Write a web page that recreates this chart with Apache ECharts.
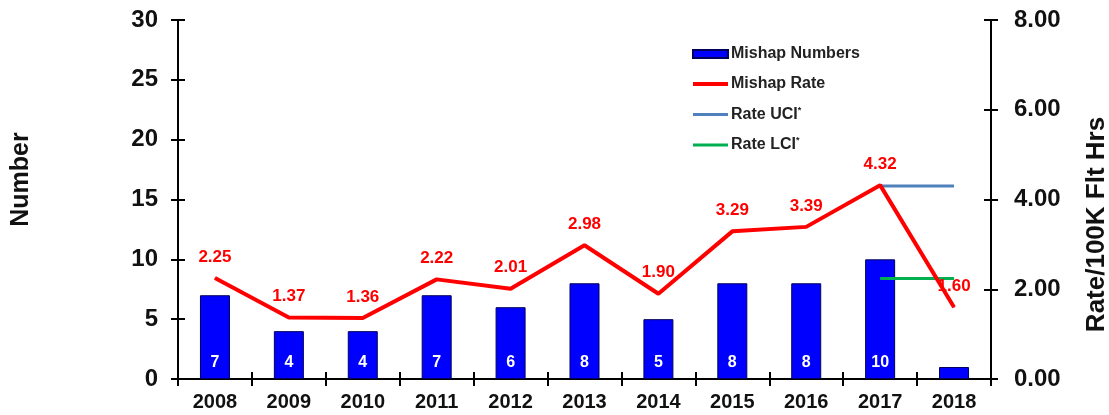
<!DOCTYPE html>
<html>
<head>
<meta charset="utf-8">
<script src="https://cdn.jsdelivr.net/npm/echarts@6/dist/echarts.min.js"></script>
<style>
  html, body { margin: 0; padding: 0; background: #fff; }
  #chart { width: 1109px; height: 415px; }
</style>
</head>
<body>
<div id="chart"></div>
<script>
// data
const years = ['2008', '2009', '2010', '2011', '2012', '2013', '2014', '2015', '2016', '2017', '2018'];
const mishapNumbers = [7, 4, 4, 7, 6, 8, 5, 8, 8, 10, 1];
const mishapRate = [2.25, 1.37, 1.36, 2.22, 2.01, 2.98, 1.90, 3.29, 3.39, 4.32, 1.60];
const rateUci = [null, null, null, null, null, null, null, null, null, 4.30, 4.30];
const rateLci = [null, null, null, null, null, null, null, null, null, 2.24, 2.24];

const FONT = 'Liberation Sans, Arial, sans-serif';

const chart = echarts.init(document.getElementById('chart'));

// ticks cross the axis lines, so each axis gets a twin that draws the inside half
const leftAxis = {min: 0, max: 30, interval: 5};
const rightAxis = {min: 0, max: 8, interval: 2};
const tickStyle = {color: '#000', width: 2};

const option = {
  animation: false,
  textStyle: {fontFamily: FONT},
  grid: {left: 178, right: 118, top: 20, bottom: 36, containLabel: false, outerBoundsMode: 'none'},
  legend: {
    orient: 'vertical',
    left: 686,
    top: 41,
    itemWidth: 35,
    itemHeight: 8,
    itemGap: 14,
    textStyle: {
      fontFamily: FONT, fontSize: 16, fontWeight: 'bold', color: '#222', padding: [0, 0, 0, -2],
      rich: {sup: {fontSize: 9, fontWeight: 'bold', color: '#222', padding: [0, 0, 8, 0]}}
    },
    formatter: name => name.replace('*', '{sup|*}'),
    data: [
      {name: 'Mishap Numbers', icon: 'rect'},
      {name: 'Mishap Rate', itemStyle: {opacity: 0}, lineStyle: {width: 4}},
      {name: 'Rate UCI*', itemStyle: {opacity: 0}, lineStyle: {width: 3}},
      {name: 'Rate LCI*', itemStyle: {opacity: 0}, lineStyle: {width: 3}}
    ]
  },
  xAxis: [
    {
      type: 'category',
      data: years,
      axisLine: {lineStyle: {color: '#000', width: 2}},
      axisTick: {show: true, length: 7, lineStyle: tickStyle},
      axisLabel: {color: '#111', fontSize: 20, fontWeight: 'bold', margin: 13, fontFamily: FONT}
    },
    {
      type: 'category',
      data: years,
      position: 'bottom',
      axisLine: {show: false},
      axisTick: {show: true, inside: true, length: 7, lineStyle: tickStyle},
      axisLabel: {show: false}
    }
  ],
  yAxis: [
    {
      type: 'value',
      ...leftAxis,
      name: 'Number',
      nameLocation: 'middle',
      nameGap: 144,
      nameTextStyle: {fontSize: 25, fontWeight: 'bold', color: '#111', fontFamily: FONT, padding: [0, 0, 0, 40]},
      splitLine: {show: false},
      axisLine: {show: true, lineStyle: {color: '#000', width: 2}},
      axisTick: {show: true, length: 7, lineStyle: tickStyle},
      axisLabel: {color: '#111', fontSize: 24, fontWeight: 'bold', margin: 20, fontFamily: FONT}
    },
    {
      type: 'value',
      ...rightAxis,
      position: 'right',
      name: 'Rate/100K Flt Hrs',
      nameLocation: 'middle',
      nameGap: 93,
      nameTextStyle: {fontSize: 26, fontWeight: 'bold', color: '#111', fontFamily: FONT, padding: [0, 50, 0, 0]},
      splitLine: {show: false},
      axisLine: {show: true, lineStyle: {color: '#000', width: 2}},
      axisTick: {show: true, length: 7, lineStyle: tickStyle},
      axisLabel: {
        color: '#111', fontSize: 24, fontWeight: 'bold', margin: 23, fontFamily: FONT,
        formatter: v => v.toFixed(2)
      }
    },
    {
      type: 'value',
      ...leftAxis,
      position: 'left',
      splitLine: {show: false},
      axisLine: {show: false},
      axisTick: {show: true, inside: true, length: 7, lineStyle: tickStyle},
      axisLabel: {show: false}
    },
    {
      type: 'value',
      ...rightAxis,
      position: 'right',
      splitLine: {show: false},
      axisLine: {show: false},
      axisTick: {show: true, inside: true, length: 7, lineStyle: tickStyle},
      axisLabel: {show: false}
    }
  ],
  series: [
    {
      name: 'Mishap Numbers',
      type: 'bar',
      yAxisIndex: 0,
      data: mishapNumbers,
      barWidth: 30,
      itemStyle: {color: '#0000FF', borderColor: '#00005a', borderWidth: 1},
      label: {
        show: true,
        position: 'insideBottom',
        distance: 8,
        color: '#fff',
        fontSize: 16,
        fontWeight: 'bold',
        fontFamily: FONT
      }
    },
    {
      name: 'Mishap Rate',
      type: 'line',
      yAxisIndex: 1,
      data: mishapRate,
      symbol: 'circle',
      symbolSize: 1,
      showSymbol: true,
      lineStyle: {color: '#FF0000', width: 4},
      itemStyle: {color: '#FF0000'},
      label: {
        show: true,
        position: 'top',
        distance: 12,
        color: '#FF0000',
        fontSize: 17,
        fontWeight: 'bold',
        fontFamily: FONT,
        formatter: p => p.value.toFixed(2)
      },
      z: 5
    },
    {
      name: 'Rate UCI*',
      type: 'line',
      yAxisIndex: 1,
      data: rateUci,
      symbol: 'none',
      lineStyle: {color: '#4F81BD', width: 3},
      itemStyle: {color: '#4F81BD'},
      z: 4
    },
    {
      name: 'Rate LCI*',
      type: 'line',
      yAxisIndex: 1,
      data: rateLci,
      symbol: 'none',
      lineStyle: {color: '#00B050', width: 3},
      itemStyle: {color: '#00B050'},
      z: 4
    }
  ]
};

chart.setOption(option);
</script>
</body>
</html>
